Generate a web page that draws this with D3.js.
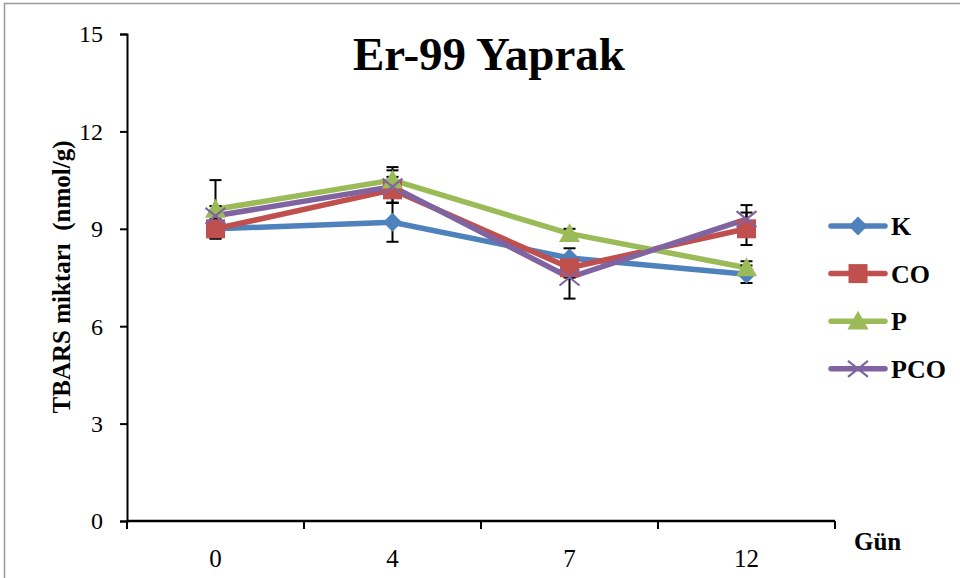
<!DOCTYPE html>
<html><head><meta charset="utf-8">
<script src="https://cdn.jsdelivr.net/npm/d3@7/dist/d3.min.js"></script>
<style>body{margin:0;background:#fff}svg{display:block}</style>
</head><body><svg id="c" width="960" height="578"></svg>
<script>
const days = ["0","4","7","12"];
const yTicks = [0,3,6,9,12,15];
const seriesNames = ["K","CO","P","PCO"];
const kValues = [9.0, 9.2, 8.1, 7.6];
const coValues = [9.0, 10.2, 7.8, 9.0];
const pValues = [9.6, 10.5, 8.85, 7.8];
const pcoValues = [9.4, 10.3, 7.5, 9.3];
const kErr = [0.2, 0.6, 0.3, 0.27];
const coErr = [0.3, 0.4, 0.3, 0.5];
const pErr = [0.9, 0.4, 0.15, 0.2];
const pcoErr = [0.3, 0.5, 0.65, 0.43];
const colors = ["#4F81BD","#C0504D","#9BBB59","#8064A2"];
const symbols = ["diamond","square","triangle","x"];

const series = seriesNames.map((n,i)=>({name:n, values:[kValues,coValues,pValues,pcoValues][i], err:[kErr,coErr,pErr,pcoErr][i], color:colors[i], sym:symbols[i]}));

const svg = d3.select("#c");
const font = "'Liberation Serif','Times New Roman',serif";
// frame
svg.append("path").attr("d","M4.5,578 L4.5,3.5 L960,3.5").attr("fill","none").attr("stroke","#999").attr("stroke-width",1.5);

const x0=127, x1=835, yTop=34, yBot=521;
const x = d3.scaleBand().domain(days).range([x0,x1]);
const y = d3.scaleLinear().domain([0,15]).range([yBot,yTop]);

const yAxis = svg.append("g").attr("transform",`translate(${x0},0)`)
  .call(d3.axisLeft(y).tickValues(yTicks).tickSize(7).tickPadding(17));
yAxis.select(".domain").attr("stroke","#000").attr("stroke-width",2);
yAxis.selectAll("line").attr("stroke","#000").attr("stroke-width",2);
yAxis.selectAll("text").attr("font-family",font).attr("font-size",24).attr("fill","#000").attr("dy","0.33em");

const xAxis = svg.append("g").attr("transform",`translate(0,${yBot})`)
  .call(d3.axisBottom(x).tickSize(0).tickPadding(28));
xAxis.select(".domain").remove();
xAxis.selectAll("text").attr("font-family",font).attr("font-size",25).attr("fill","#000");
svg.append("line").attr("x1",x0).attr("x2",x1).attr("y1",yBot).attr("y2",yBot).attr("stroke","#000").attr("stroke-width",2.5);
const bounds = days.map(d=>x(d)).concat([x1]);
svg.selectAll(".xt").data(bounds).join("line").attr("x1",d=>d).attr("x2",d=>d).attr("y1",yBot).attr("y2",yBot+8).attr("stroke","#000").attr("stroke-width",2);

const cx = d=>x(d)+x.bandwidth()/2;
const line = d3.line().x((v,i)=>cx(days[i])).y(v=>y(v));

// lines
series.forEach(s=>{
  svg.append("path").attr("d",line(s.values)).attr("fill","none").attr("stroke",s.color).attr("stroke-width",5.5).attr("stroke-linejoin","round").attr("stroke-linecap","round");
});

function marker(g,s,px,py){
  if(s.sym==="diamond"){
    const r=9.5;
    g.append("path").attr("d",`M${px},${py-r}L${px+r},${py}L${px},${py+r}L${px-r},${py}Z`).attr("fill",s.color);
  } else if(s.sym==="square"){
    const r=9.5;
    g.append("rect").attr("x",px-r).attr("y",py-r).attr("width",2*r).attr("height",2*r).attr("fill",s.color);
  } else if(s.sym==="triangle"){
    const r=10.5;
    g.append("path").attr("d",`M${px},${py-r}L${px+r},${py+r*0.8}L${px-r},${py+r*0.8}Z`).attr("fill",s.color);
  } else {
    const r=10;
    g.append("path").attr("d",`M${px-r},${py-r*0.8}L${px+r},${py+r*0.8}M${px-r},${py+r*0.8}L${px+r},${py-r*0.8}`).attr("stroke",s.color).attr("stroke-width",2.2);
  }
}

// error bars + markers
series.forEach(s=>{
  const g = svg.append("g");
  s.values.forEach((v,i)=>{
    const px=cx(days[i]);
    const lo=y(v-s.err[i]), hi=y(v+s.err[i]);
    g.append("line").attr("x1",px).attr("x2",px).attr("y1",lo).attr("y2",hi).attr("stroke","#000").attr("stroke-width",2);
    [lo,hi].forEach(yy=>g.append("line").attr("x1",px-6).attr("x2",px+6).attr("y1",yy).attr("y2",yy).attr("stroke","#000").attr("stroke-width",2));
  });
});
series.forEach(s=>{
  const g = svg.append("g");
  s.values.forEach((v,i)=>marker(g,s,cx(days[i]),y(v)));
});

// legend
const lg = svg.append("g");
series.forEach((s,i)=>{
  const ly = 226 + i*47.6;
  lg.append("line").attr("x1",831).attr("x2",885).attr("y1",ly).attr("y2",ly).attr("stroke",s.color).attr("stroke-width",5.5).attr("stroke-linecap","round");
  marker(lg,s,858,ly);
  lg.append("text").attr("x",891).attr("y",ly+9).text(s.name).attr("font-family",font).attr("font-weight","bold").attr("font-size",26).attr("fill","#000");
});

// title & labels
svg.append("text").attr("x",489).attr("y",70).attr("text-anchor","middle").text("Er-99 Yaprak").attr("font-family",font).attr("font-weight","bold").attr("font-size",47).attr("fill","#000");
svg.append("text").attr("transform","translate(70,277) rotate(-90)").attr("text-anchor","middle").text("TBARS miktarı  (nmol/g)").attr("font-family",font).attr("font-weight","bold").attr("font-size",25).attr("fill","#000").style("white-space","pre");
svg.append("text").attr("x",854).attr("y",550).text("Gün").attr("font-family",font).attr("font-weight","bold").attr("font-size",25).attr("fill","#000");
</script></body></html>
